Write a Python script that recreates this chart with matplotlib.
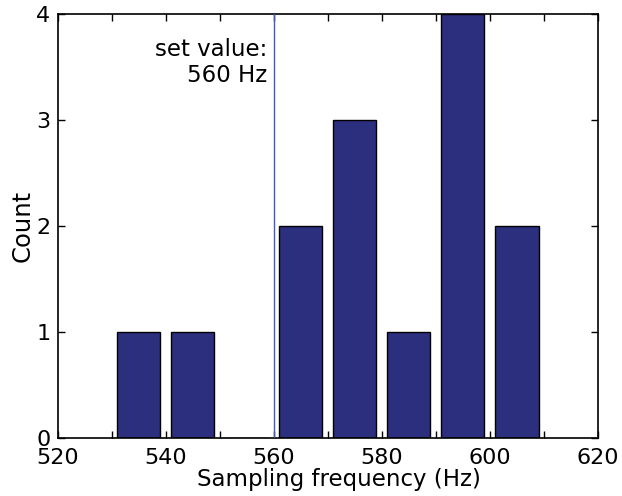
import matplotlib
matplotlib.use('Agg')
import matplotlib.pyplot as plt
import numpy as np

plt.rcParams['font.family'] = ['DejaVu Sans']

# histogram bin centres and counts
bin_centers = [535, 545, 555, 565, 575, 585, 595, 605]
counts = [1, 1, 0, 2, 3, 1, 4, 2]
set_value = 560

fig = plt.figure(figsize=(6.22, 4.96), dpi=100)
ax = fig.add_axes([57.5 / 622, 58 / 496, 540.5 / 622, 424 / 496])

ax.bar(bin_centers, counts, width=8, color='#2b2f7e', edgecolor='black', linewidth=1.0, zorder=2)
ax.axvline(set_value, color='#3f5bc4', linewidth=1.0, zorder=3)
ax.text(set_value - 1.2, 3.54, 'set value:\n560 Hz', ha='right', va='center',
        fontsize=16.5, linespacing=1.15)

ax.set_xlim(520, 620)
ax.set_ylim(0, 4)
ax.set_xticks(np.arange(520, 621, 20))
ax.set_xticks(np.arange(530, 620, 20), minor=True)
ax.set_yticks([0, 1, 2, 3, 4])
ax.tick_params(which='both', direction='in', top=True, right=True, length=5, width=1)
ax.tick_params(axis='x', labelsize=16, pad=7.5)
ax.tick_params(axis='y', labelsize=16, pad=5)
for s in ax.spines.values():
    s.set_linewidth(1.2)

ax.set_xlabel('Sampling frequency (Hz)', fontsize=16.5, labelpad=0)
ax.xaxis.label.set_x(0.52)
ax.set_ylabel('Count', fontsize=17.5, labelpad=1)

plt.savefig('out.png', dpi=100)
